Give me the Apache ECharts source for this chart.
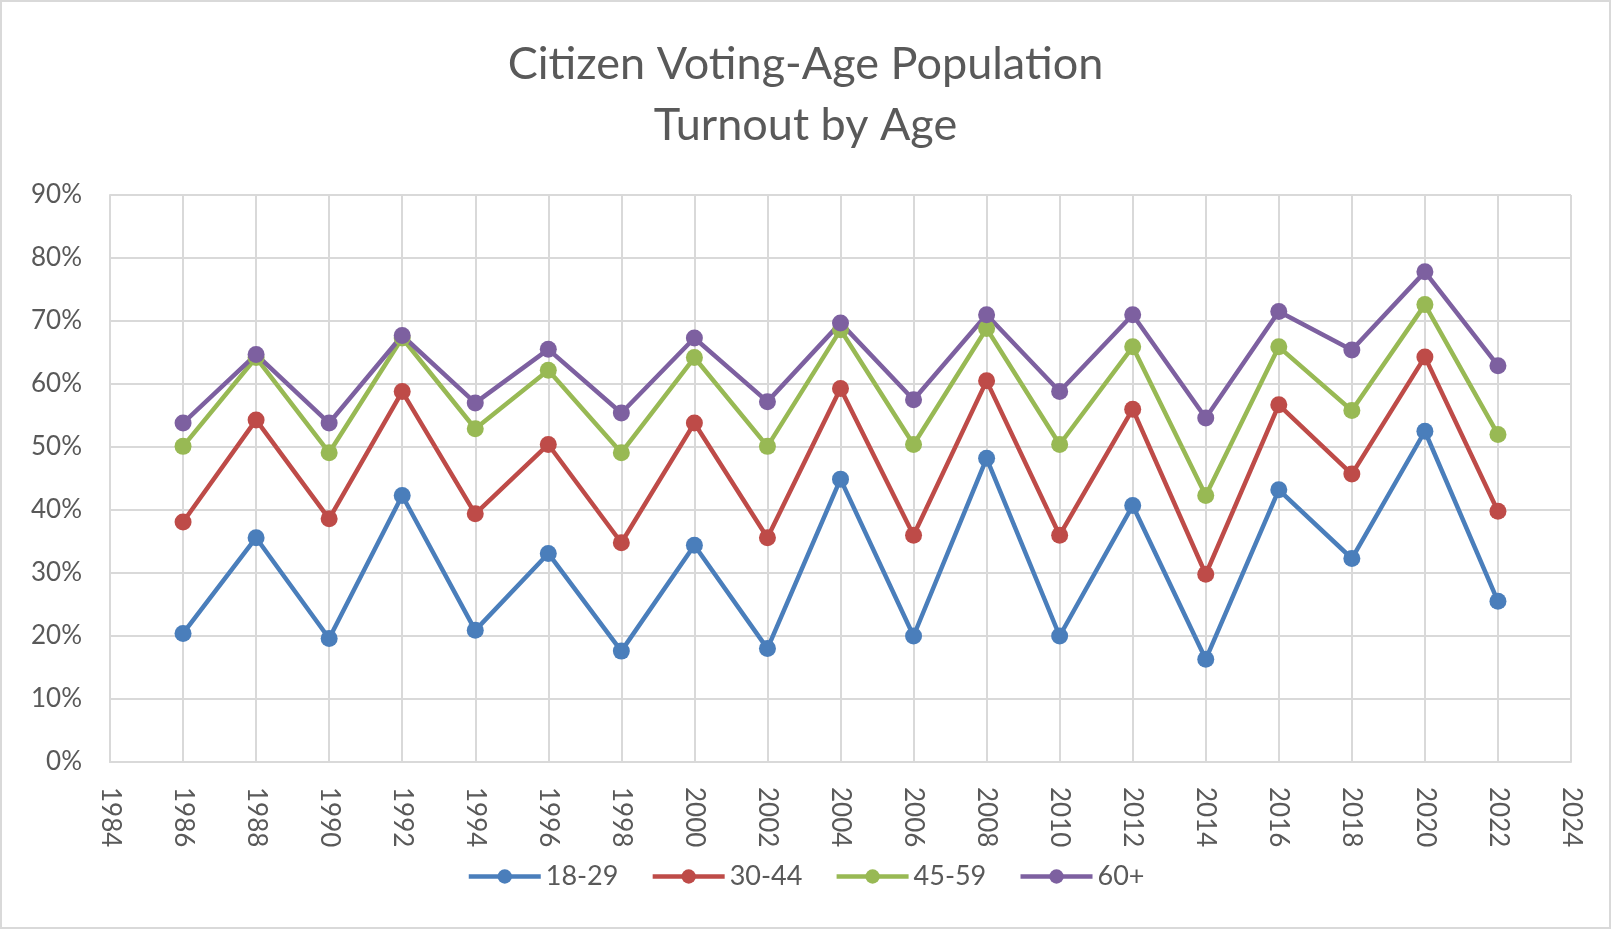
<!DOCTYPE html>
<html>
<head>
<meta charset="utf-8">
<script src="https://cdn.jsdelivr.net/npm/echarts@6/dist/echarts.min.js"></script>
<style>
  html, body { margin: 0; padding: 0; background: #fff; }
  #chart { width: 1611px; height: 929px; box-sizing: border-box; border: 2px solid #d9d9d9; }
</style>
</head>
<body>
<div id="chart"></div>
<script>
// turnout data, percent of citizen voting-age population
const years = [1986, 1988, 1990, 1992, 1994, 1996, 1998, 2000, 2002, 2004, 2006, 2008, 2010, 2012, 2014, 2016, 2018, 2020, 2022];
const age18to29 = [20.4, 35.6, 19.6, 42.3, 20.9, 33.1, 17.6, 34.4, 18.0, 44.9, 20.0, 48.2, 20.0, 40.7, 16.3, 43.2, 32.3, 52.5, 25.5];
const age30to44 = [38.1, 54.3, 38.6, 58.8, 39.4, 50.4, 34.8, 53.8, 35.6, 59.3, 36.0, 60.5, 36.0, 56.0, 29.8, 56.7, 45.7, 64.3, 39.8];
const age45to59 = [50.1, 64.2, 49.1, 67.3, 52.9, 62.2, 49.1, 64.2, 50.1, 68.6, 50.4, 68.8, 50.4, 65.9, 42.3, 65.9, 55.8, 72.6, 52.0];
const age60plus = [53.8, 64.7, 53.8, 67.7, 57.0, 65.5, 55.4, 67.3, 57.2, 69.7, 57.5, 71.0, 58.8, 71.0, 54.6, 71.5, 65.4, 77.8, 62.9];
const seriesNames = ["18-29", "30-44", "45-59", "60+"];
const colors = ["#4a7ebb", "#be4b48", "#98b954", "#7d60a0"];

const font = "Lato, 'Open Sans', sans-serif";
const textColor = "#595959";
const gridColor = "#d9d9d9";

function pairs(values) {
  return values.map((v, i) => [years[i], v]);
}

const chart = echarts.init(document.getElementById("chart"));

const allValues = [age18to29, age30to44, age45to59, age60plus];

chart.setOption({
  animation: false,
  color: colors,
  title: {
    text: "Citizen Voting-Age Population\nTurnout by Age",
    left: "center",
    top: 27,
    textStyle: {
      fontFamily: font,
      fontSize: 45,
      fontWeight: "normal",
      color: textColor,
      lineHeight: 61
    }
  },
  legend: {
    bottom: 32,
    left: "center",
    itemWidth: 72,
    itemHeight: 18,
    itemGap: 32,
    lineStyle: { width: 4.5 },
    textStyle: { fontFamily: font, fontSize: 27, color: textColor },
    data: seriesNames
  },
  grid: { left: 108, right: 38, top: 193, bottom: 165 },
  xAxis: {
    type: "value",
    min: 1984,
    max: 2024,
    interval: 2,
    axisLine: { show: true, lineStyle: { color: gridColor, width: 2 } },
    axisTick: { show: false },
    splitLine: { show: true, lineStyle: { color: gridColor, width: 2 } },
    axisLabel: {
      rotate: -90,
      margin: 25,
      fontFamily: font,
      fontSize: 26,
      color: textColor,
      formatter: v => String(v)
    }
  },
  yAxis: {
    type: "value",
    min: 0,
    max: 90,
    interval: 10,
    axisLine: { show: true, lineStyle: { color: gridColor, width: 2 } },
    axisTick: { show: false },
    splitLine: { show: true, lineStyle: { color: gridColor, width: 2 } },
    axisLabel: {
      margin: 28,
      fontFamily: font,
      fontSize: 26,
      color: textColor,
      formatter: "{value}%"
    }
  },
  series: seriesNames.map((name, i) => ({
    name: name,
    type: "line",
    data: pairs(allValues[i]),
    symbol: "circle",
    symbolSize: 17,
    lineStyle: { width: 4.5, color: colors[i] },
    itemStyle: { color: colors[i] }
  }))
});
</script>
</body>
</html>
